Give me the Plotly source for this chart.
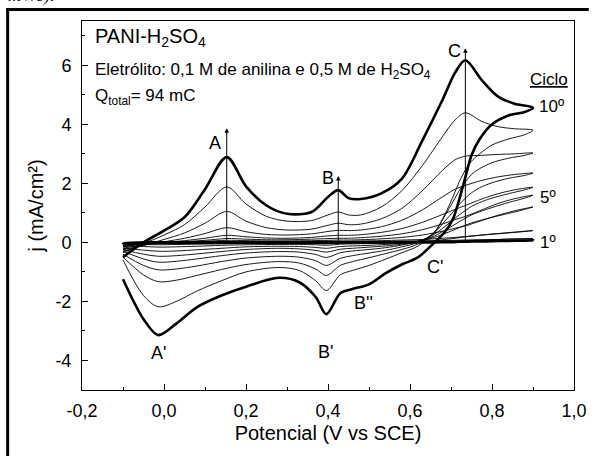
import plotly.graph_objects as go

# Potential grids (V vs SCE) for the anodic (forward) and cathodic (reverse) sweeps
E_FWD = [-0.1, -0.05, 0.0, 0.05, 0.1, 0.153, 0.2, 0.25, 0.3, 0.36, 0.4, 0.425,
         0.45, 0.48, 0.53, 0.58, 0.63, 0.68, 0.71, 0.735, 0.775, 0.815, 0.855, 0.9]
E_REV = [0.88, 0.84, 0.8, 0.77, 0.75, 0.735, 0.72, 0.705, 0.685, 0.66, 0.62, 0.58,
         0.54, 0.5, 0.46, 0.43, 0.396, 0.37, 0.33, 0.28, 0.2, 0.14, 0.08, 0.03,
         -0.014, -0.05, -0.1]

# Current density (mA/cm2) per cycle, forward sweep
J_FWD_C1 = [-0.03, 0.0, 0.0, 0.0, 0.0, 0.0, 0.0, 0.0, 0.0, 0.0, 0.0, 0.0, 0.0, 0.0, 0.0,
            0.01, 0.01, 0.02, 0.02, 0.03, 0.04, 0.05, 0.06, 0.07]
J_FWD_C2 = [-0.08, -0.03, 0.0, 0.01, 0.01, 0.02, 0.02, 0.02, 0.02, 0.02, 0.02, 0.02,
            0.02, 0.03, 0.03, 0.04, 0.05, 0.06, 0.07, 0.08, 0.09, 0.1, 0.12, 0.13]
J_FWD_C3 = [-0.1, -0.04, 0.0, 0.01, 0.02, 0.03, 0.03, 0.03, 0.03, 0.03, 0.04, 0.04,
            0.04, 0.05, 0.06, 0.08, 0.1, 0.14, 0.17, 0.2, 0.25, 0.3, 0.35, 0.4]
J_FWD_C4 = [-0.12, -0.05, 0.0, 0.02, 0.04, 0.07, 0.06, 0.05, 0.05, 0.06, 0.07, 0.08,
            0.08, 0.09, 0.12, 0.17, 0.25, 0.38, 0.48, 0.56, 0.74, 0.92, 1.07, 1.2]
J_FWD_C5 = [-0.15, -0.06, 0.0, 0.03, 0.07, 0.13, 0.11, 0.09, 0.09, 0.11, 0.13, 0.14,
            0.14, 0.16, 0.21, 0.29, 0.43, 0.63, 0.77, 0.88, 1.1, 1.32, 1.48, 1.6]
J_FWD_C6 = [-0.2, -0.08, 0.0, 0.06, 0.14, 0.24, 0.19, 0.15, 0.14, 0.17, 0.22, 0.24,
            0.24, 0.26, 0.34, 0.47, 0.68, 0.95, 1.12, 1.25, 1.47, 1.65, 1.78, 1.87]
J_FWD_C7 = [-0.25, -0.1, 0.02, 0.14, 0.3, 0.5, 0.36, 0.27, 0.25, 0.29, 0.37, 0.41,
            0.4, 0.42, 0.53, 0.75, 1.1, 1.55, 1.8, 1.93, 2.1, 2.22, 2.3, 2.35]
J_FWD_C8 = [-0.3, -0.1, 0.1, 0.32, 0.65, 1.05, 0.72, 0.5, 0.42, 0.45, 0.58, 0.65,
            0.6, 0.62, 0.8, 1.15, 1.75, 2.45, 2.8, 2.92, 2.95, 2.98, 3.0, 3.03]
J_FWD_C9 = [-0.35, -0.05, 0.25, 0.6, 1.2, 1.88, 1.3, 0.88, 0.72, 0.74, 0.93, 1.03,
            0.93, 0.93, 1.2, 1.75, 2.6, 3.6, 4.15, 4.39, 4.1, 3.92, 3.85, 3.8]
J_FWD_C10 = [-0.5, 0.0, 0.4, 0.85, 1.8, 2.89, 1.9, 1.25, 0.97, 1.03, 1.54, 1.77,
             1.5, 1.47, 1.66, 2.15, 3.45, 4.85, 5.75, 6.17, 5.5, 4.94, 4.7, 4.56]

# Current density (mA/cm2) per cycle, reverse sweep
J_REV_C1 = [0.06, 0.05, 0.04, 0.03, 0.03, 0.02, 0.02, 0.01, 0.01, 0.0, 0.0, 0.0, 0.0,
            0.0, 0.0, 0.0, -0.01, -0.01, -0.01, -0.01, -0.01, -0.01, -0.01, -0.02,
            -0.02, -0.02, -0.03]
J_REV_C2 = [0.12, 0.11, 0.09, 0.08, 0.07, 0.06, 0.05, 0.04, 0.03, 0.02, 0.01, -0.01,
            -0.01, -0.02, -0.02, -0.03, -0.05, -0.04, -0.03, -0.03, -0.04, -0.05,
            -0.06, -0.07, -0.08, -0.07, -0.1]
J_REV_C3 = [0.37, 0.32, 0.28, 0.24, 0.21, 0.19, 0.16, 0.13, 0.1, 0.06, 0.02, -0.02,
            -0.03, -0.04, -0.05, -0.06, -0.1, -0.08, -0.07, -0.07, -0.08, -0.1, -0.13,
            -0.15, -0.16, -0.14, -0.15]
J_REV_C4 = [1.12, 0.98, 0.85, 0.74, 0.66, 0.58, 0.5, 0.41, 0.3, 0.17, 0.04, -0.03,
            -0.07, -0.1, -0.12, -0.14, -0.2, -0.17, -0.14, -0.13, -0.15, -0.2, -0.25,
            -0.29, -0.3, -0.26, -0.2]
J_REV_C5 = [1.5, 1.35, 1.18, 1.04, 0.93, 0.82, 0.7, 0.57, 0.41, 0.22, 0.04, -0.06, -0.12,
            -0.16, -0.2, -0.23, -0.33, -0.27, -0.22, -0.2, -0.24, -0.31, -0.39, -0.45,
            -0.47, -0.4, -0.25]
J_REV_C6 = [1.78, 1.65, 1.5, 1.35, 1.22, 1.08, 0.93, 0.76, 0.54, 0.28, 0.03, -0.09,
            -0.18, -0.24, -0.29, -0.35, -0.51, -0.41, -0.33, -0.31, -0.36, -0.45,
            -0.56, -0.64, -0.67, -0.56, -0.3]
J_REV_C7 = [2.27, 2.17, 2.02, 1.85, 1.68, 1.5, 1.28, 1.03, 0.72, 0.33, 0.0, -0.15,
            -0.27, -0.36, -0.45, -0.54, -0.78, -0.62, -0.5, -0.47, -0.53, -0.65, -0.8,
            -0.9, -0.93, -0.78, -0.4]
J_REV_C8 = [2.95, 2.85, 2.7, 2.5, 2.3, 2.05, 1.75, 1.38, 0.9, 0.35, -0.05, -0.24, -0.38,
            -0.52, -0.65, -0.78, -1.12, -0.9, -0.7, -0.65, -0.75, -0.92, -1.12, -1.28,
            -1.33, -1.1, -0.5]
J_REV_C9 = [3.65, 3.5, 3.3, 3.0, 2.75, 2.45, 2.05, 1.55, 0.95, 0.35, -0.12, -0.35, -0.57,
            -0.78, -0.95, -1.1, -1.63, -1.3, -0.95, -0.85, -1.0, -1.3, -1.65, -2.0,
            -2.18, -1.8, -0.6]
J_REV_C10 = [4.42, 4.3, 4.0, 3.5, 2.95, 2.2, 1.45, 0.8, 0.35, 0.0, -0.5, -0.75, -1.05,
             -1.42, -1.58, -1.72, -2.43, -1.85, -1.35, -1.2, -1.5, -1.8, -2.2, -2.75,
             -3.14, -2.6, -1.25]

CYCLES = [
    (1, J_FWD_C1, J_REV_C1), (2, J_FWD_C2, J_REV_C2), (3, J_FWD_C3, J_REV_C3),
    (4, J_FWD_C4, J_REV_C4), (5, J_FWD_C5, J_REV_C5), (6, J_FWD_C6, J_REV_C6),
    (7, J_FWD_C7, J_REV_C7), (8, J_FWD_C8, J_REV_C8), (9, J_FWD_C9, J_REV_C9),
    (10, J_FWD_C10, J_REV_C10),
]
THICK_CYCLES = [1, 10]

X_TICKS = [-0.2, 0.0, 0.2, 0.4, 0.6, 0.8, 1.0]
X_TICK_LABELS = ["-0,2", "0,0", "0,2", "0,4", "0,6", "0,8", "1,0"]
Y_TICKS = [-4, -2, 0, 2, 4, 6]
Y_TICK_LABELS = ["-4", "-2", "0", "2", "4", "6"]

# Peak markers (potential, arrow tip current)
PEAK_ARROWS = [(0.153, 3.87), (0.425, 2.25), (0.735, 6.58)]
PEAK_LABELS = [("A", 0.124, 3.36), ("B", 0.399, 2.18), ("C", 0.709, 6.47),
               ("A'", -0.014, -3.74), ("B'", 0.394, -3.72), ("B''", 0.487, -2.05),
               ("C'", 0.661, -0.83)]
CYCLE_LABELS = [("10º", 0.909, 4.59), ("5º", 0.911, 1.53), ("1º", 0.913, 0.0)]

FONT = "Liberation Sans, Arial, sans-serif"

fig = go.Figure()
order = [c for c in CYCLES if c[0] not in THICK_CYCLES] + [c for c in CYCLES if c[0] in THICK_CYCLES]
for n, jf, jr in order:
    thick = n in THICK_CYCLES
    fig.add_trace(go.Scatter(
        x=E_FWD + E_REV, y=jf + jr, mode="lines",
        line=dict(color="black", width=2.6 if thick else 0.9, shape="spline", smoothing=0.9),
        name=f"{n}º", showlegend=False, hoverinfo="skip"))

annotations = []
for xa, ya in PEAK_ARROWS:
    annotations.append(dict(x=xa, y=ya, ax=xa, ay=0, xref="x", yref="y", axref="x", ayref="y",
                            text="", showarrow=True, arrowhead=2, arrowsize=0.9,
                            arrowwidth=1, arrowcolor="black", standoff=0, startstandoff=0))
for t, xl, yl in PEAK_LABELS:
    annotations.append(dict(x=xl, y=yl, xref="x", yref="y", text=t, showarrow=False,
                            font=dict(family=FONT, size=18, color="black")))
for t, xl, yl in CYCLE_LABELS:
    annotations.append(dict(x=xl, y=yl, xref="x", yref="y", text=t, showarrow=False,
                            xanchor="left", font=dict(family=FONT, size=17, color="black")))
annotations.append(dict(x=0.938, y=5.53, xref="x", yref="y", text="<u>Ciclo</u>", showarrow=False,
                        font=dict(family=FONT, size=17, color="black")))
annotations.append(dict(x=-0.173, y=6.95, xref="x", yref="y", text="PANI-H<sub>2</sub>SO<sub>4</sub>",
                        showarrow=False, xanchor="left", font=dict(family=FONT, size=20, color="black")))
annotations.append(dict(x=-0.173, y=5.82, xref="x", yref="y",
                        text="Eletrólito: 0,1 M de anilina e 0,5 M de H<sub>2</sub>SO<sub>4</sub>",
                        showarrow=False, xanchor="left", font=dict(family=FONT, size=17, color="black")))
annotations.append(dict(x=-0.173, y=4.92, xref="x", yref="y", text="Q<sub>total</sub>= 94 mC",
                        showarrow=False, xanchor="left", font=dict(family=FONT, size=17, color="black")))
annotations.append(dict(x=-0.155, y=1.0352, xref="paper", yref="paper", text="<i>mV/s).</i>",
                        showarrow=False, xanchor="left", yanchor="bottom",
                        font=dict(family="Liberation Serif, Times New Roman, serif", size=18, color="black")))

shapes = [
    dict(type="line", xref="paper", yref="paper", x0=-0.1535, x1=1.03, y0=1.0312, y1=1.0312,
         line=dict(color="black", width=3)),
    dict(type="line", xref="paper", yref="paper", x0=-0.1511, x1=-0.1511, y0=1.0352, y1=-0.2,
         line=dict(color="black", width=3)),
]

axis_common = dict(showline=True, linecolor="black", linewidth=1, mirror=True, ticks="inside",
                   ticklen=6, tickwidth=1, tickcolor="black", showgrid=False, zeroline=False,
                   tickfont=dict(family=FONT, size=18, color="black"))

fig.update_layout(
    width=599, height=456, margin=dict(l=82, r=14, t=21, b=66),
    paper_bgcolor="white", plot_bgcolor="white",
    xaxis=dict(range=[-0.2, 1.0], tickmode="array", tickvals=X_TICKS, ticktext=X_TICK_LABELS,
               minor=dict(tickmode="linear", tick0=-0.2, dtick=0.1, ticks="inside", ticklen=3,
                          tickcolor="black"),
               ticklabelstandoff=4,
               title=dict(text="Potencial (V vs SCE)", font=dict(family=FONT, size=20, color="black"),
                          standoff=6),
               **axis_common),
    yaxis=dict(range=[-5, 7.5], tickmode="array", tickvals=Y_TICKS, ticktext=Y_TICK_LABELS,
               minor=dict(tickmode="linear", tick0=-5, dtick=1, ticks="inside", ticklen=3,
                          tickcolor="black"),
               ticklabelstandoff=6,
               title=dict(text="j (mA/cm²)", font=dict(family=FONT, size=20, color="black"),
                          standoff=6),
               **axis_common),
    annotations=annotations, shapes=shapes, showlegend=False,
)

fig.write_html("out.html")
